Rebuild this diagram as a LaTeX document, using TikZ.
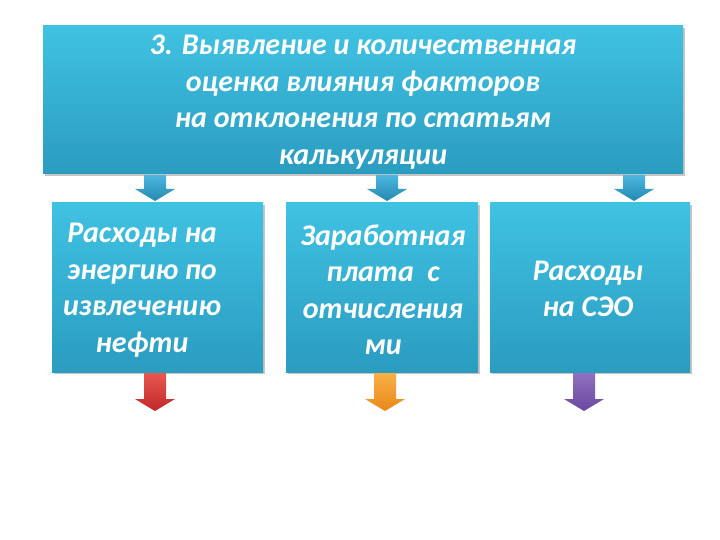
\documentclass[tikz,border=0pt]{standalone}
\usepackage{fontspec}
\setmainfont{Carlito}
\usetikzlibrary{shadows,calc}
\definecolor{boxtop}{HTML}{40C2E2}
\definecolor{boxbot}{HTML}{2A9CC0}
\definecolor{arrblueA}{HTML}{4CB8E0}
\definecolor{arrblueB}{HTML}{2488B0}
\definecolor{redA}{HTML}{E85850}
\definecolor{redB}{HTML}{C02828}
\definecolor{orA}{HTML}{F8B048}
\definecolor{orB}{HTML}{E88818}
\definecolor{puA}{HTML}{9070C0}
\definecolor{puB}{HTML}{6A48A0}
\tikzset{
  box/.style={draw=none, top color=boxtop, bottom color=boxbot, inner sep=0pt,
    drop shadow={opacity=0.45, shadow xshift=2pt, shadow yshift=-2pt}},
  btxt/.style={text=white, font=\fontsize{30}{36.5}\selectfont\bfseries\itshape, align=center, inner sep=0pt},
}
\newcommand{\downarrowshape}[5]{% x, ytop, ybot, colorA, colorB
  \shade[top color=#4, bottom color=#5]
    (#1-11,#2) -- (#1+11,#2) -- (#1+11,#3-12) -- (#1+20,#3-12) -- (#1,#3)
    -- (#1-20,#3-12) -- (#1-11,#3-12) -- cycle;}
\begin{document}
\begin{tikzpicture}[x=1pt,y=-1pt]
\useasboundingbox (0,0) rectangle (720,540);
\fill[white] (0,0) rectangle (720,540);
\node[box, minimum width=640pt, minimum height=148pt] (top) at (363,100) {};
\node[btxt] (toptext) at (363,102) {3. Выявление и количественная\\оценка влияния факторов\\на отклонения по статьям\\калькуляции};
\node[box, minimum width=211pt, minimum height=169pt] (b1) at (157.5,287.5) {};
\node[box, minimum width=192pt, minimum height=169pt] (b2) at (382,287.5) {};
\node[box, minimum width=200pt, minimum height=169pt] (b3) at (590,287.5) {};
\node[btxt] (t1) at (142,290) {Расходы на\\энергию по\\извлечению\\нефти};
\node[btxt] (t2) at (383,290) {Заработная\\плата\ \ с\\отчисления\\ми};
\node[btxt] (t3) at (588,289) {Расходы\\на СЭО};
\downarrowshape{155}{175}{201}{arrblueA}{arrblueB}
\downarrowshape{387}{175}{201}{arrblueA}{arrblueB}
\downarrowshape{634}{175}{201}{arrblueA}{arrblueB}
\downarrowshape{155}{373}{411}{redA}{redB}
\downarrowshape{385}{373}{411}{orA}{orB}
\downarrowshape{584}{373}{411}{puA}{puB}
\end{tikzpicture}
\end{document}
